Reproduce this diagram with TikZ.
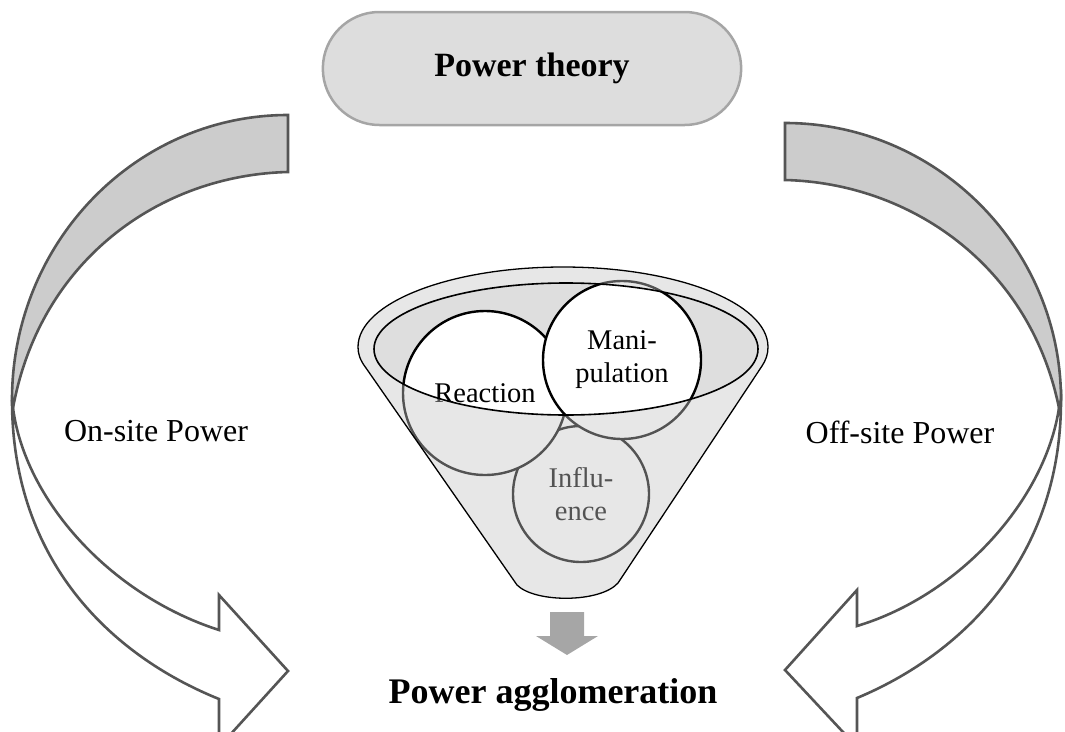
\documentclass[tikz,border=0pt]{standalone}
\usepackage{fontspec}
\setmainfont{Liberation Serif}
\usetikzlibrary{shapes.misc}

\definecolor{pillfill}{RGB}{221,221,221}
\definecolor{pillline}{RGB}{165,165,165}
\definecolor{bandgray}{RGB}{204,204,204}
\definecolor{arrowline}{RGB}{85,85,85}
\definecolor{bowlfill}{RGB}{222,222,222}
\definecolor{veil}{RGB}{200,200,200}
\definecolor{downgray}{RGB}{166,166,166}

\tikzset{
  bigarrow/.style={draw=arrowline, line width=2.6pt, line join=miter},
  ball/.style={circle, draw=black, fill=white, line width=2.4pt, inner sep=0pt,
    align=center, font=\fontsize{28.5}{33}\selectfont},
  sidelabel/.style={font=\fontsize{32}{36}\selectfont, anchor=base},
  headlabel/.style={font=\bfseries},
}

% outline of the funnel (rim on top, straight sides, rounded spout)
\newcommand\FunnelOutline{%
  (517,585) -- (366,368) .. controls (360,360) and (358,354) .. (358,347)
  .. controls (358,302.8) and (449.8,267) .. (563,267)
  .. controls (676.2,267) and (768,302.8) .. (768,347)
  .. controls (768,354) and (766,360) .. (762,366)
  -- (618,583) .. controls (600,603) and (535,603) .. (517,585) -- cycle}

\begin{document}
\begin{tikzpicture}[x=1pt, y=-1pt]
\useasboundingbox (0,0) rectangle (1065,731);

% ---- title pill ----
\node[rounded rectangle, draw=pillline, fill=pillfill, line width=2.5pt,
      minimum width=425pt, minimum height=113pt, headlabel,
      font=\fontsize{34}{38}\selectfont\bfseries]
  (theory) at (532,68.5) {Power theory};

% ---- left curved arrow: shaded back band, then white front with head ----
\coordinate (lTailA) at (288,115);
\coordinate (lTailB) at (288,172);
\coordinate (lOut)   at (12,400);
\coordinate (lIn)    at (13,408);
\coordinate (lTip)   at (288,671);
\fill[bandgray] (lTailA) .. controls (135.6,115) and (12,242.6) .. (lOut)
  -- (lIn) .. controls (40,260) and (160,175) .. (lTailB) -- cycle;
\draw[bigarrow] (lTailA) .. controls (135.6,115) and (12,242.6) .. (lOut)
  -- (lIn) .. controls (40,260) and (160,175) .. (lTailB) -- cycle;
\draw[bigarrow, fill=white] (lOut) .. controls (12,560) and (110,655) .. (219,699)
  -- (219,747) -- (lTip) -- (219,595) -- (219,630)
  .. controls (110,595) and (25,500) .. (lIn) -- cycle;

% ---- right curved arrow ----
\coordinate (rTailA) at (785,123);
\coordinate (rTailB) at (785,180);
\coordinate (rOut)   at (1061,400);
\coordinate (rIn)    at (1059,408);
\coordinate (rTip)   at (785,670);
\fill[bandgray] (rTailA) .. controls (936,123) and (1061,247) .. (rOut)
  -- (rIn) .. controls (1030,265) and (910,183) .. (rTailB) -- cycle;
\draw[bigarrow] (rTailA) .. controls (936,123) and (1061,247) .. (rOut)
  -- (rIn) .. controls (1030,265) and (910,183) .. (rTailB) -- cycle;
\draw[bigarrow, fill=white] (rOut) .. controls (1061,560) and (960,655) .. (857,698)
  -- (857,747) -- (rTip) -- (857,590) -- (857,626)
  .. controls (960,595) and (1045,500) .. (rIn) -- cycle;

\node[sidelabel] (onsite)  at (156,441) {On-site Power};
\node[sidelabel] (offsite) at (900,443) {Off-site Power};

% ---- funnel ----
\fill[white] \FunnelOutline;
\fill[bowlfill] (566,349) ellipse [x radius=192, y radius=66];

\node[ball, minimum size=136pt] (influence) at (581,494) {Influ-\\ence};
\node[ball, minimum size=164pt] (reaction)  at (485,393) {Reaction};
\node[ball, minimum size=158pt] (manip)     at (622,360) {Mani-\\pulation};

% translucent front wall of the funnel, leaving the opening clear
\fill[veil, fill opacity=0.42, even odd rule] \FunnelOutline
  (566,349) ellipse [x radius=192, y radius=66];
\draw[black, line width=1.3pt] \FunnelOutline;
\draw[black, line width=1.6pt] (566,349) ellipse [x radius=192, y radius=66];

% ---- output arrow and result ----
\fill[downgray] (550,612) -- (584,612) -- (584,636) -- (598,636) -- (567,655)
  -- (536,636) -- (550,636) -- cycle;
\node[anchor=base, font=\fontsize{36}{40}\selectfont\bfseries]
  (agglo) at (553,703) {Power agglomeration};

\end{tikzpicture}
\end{document}
